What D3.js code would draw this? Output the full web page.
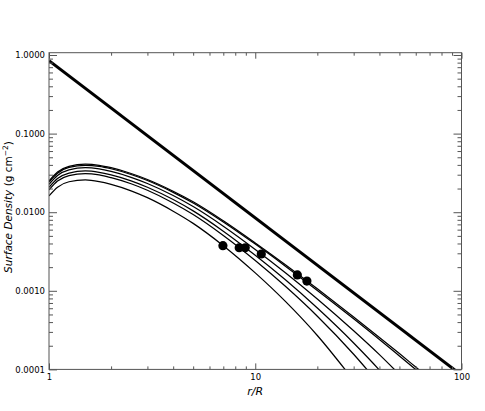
<!DOCTYPE html>
<html>
<head>
<meta charset="utf-8">
<script src="https://cdn.jsdelivr.net/npm/d3@7"></script>
<style>
  body { margin: 0; background: #fff; }
  svg { display: block; }
  .tick text { font-family: "DejaVu Sans", sans-serif; font-size: 8.5px; fill: #000; }
  .tick line { stroke: #555; }
</style>
</head>
<body>
<div id="chart"></div>
<script>
var radius = [1, 1.1, 1.25, 1.5, 1.75, 2, 2.5, 3, 4, 5, 7, 10, 14, 20, 30, 40, 50, 60, 70];

// surface density curves, top to bottom (g cm^-2)
var sigmaA = [0.0249, 0.0324, 0.0382, 0.0408, 0.0395, 0.0368, 0.0311, 0.0261, 0.0185, 0.0136, 0.00779, 0.00407, 0.00215, 0.00106, 0.000464, 0.000255, 0.000159, 0.000107, 0.0000765];
var sigmaB = [0.0242, 0.0314, 0.0371, 0.0395, 0.0383, 0.0357, 0.0302, 0.0253, 0.0179, 0.0131, 0.00752, 0.00393, 0.00206, 0.00101, 0.000440, 0.000240, 0.000148, 0.0000995, 0.0000705];
var sigmaC = [0.0226, 0.0293, 0.0346, 0.0368, 0.0355, 0.0330, 0.0278, 0.0232, 0.0163, 0.0118, 0.00664, 0.00336, 0.00170, 0.000788, 0.000310, 0.000154, 0.0000862];
var sigmaD = [0.0207, 0.0268, 0.0315, 0.0335, 0.0322, 0.0299, 0.0251, 0.0208, 0.0145, 0.0104, 0.00574, 0.00283, 0.00138, 0.000604, 0.000217, 0.0000980, 0.0000500];
var sigmaE = [0.0192, 0.0249, 0.0292, 0.0310, 0.0298, 0.0275, 0.0230, 0.0190, 0.0131, 0.00934, 0.00506, 0.00243, 0.00114, 0.000475, 0.000156, 0.0000647];
var sigmaF = [0.0161, 0.0208, 0.0244, 0.0257, 0.0245, 0.0226, 0.0187, 0.0153, 0.0103, 0.00721, 0.00375, 0.00169, 0.000733, 0.000270, 0.0000723];

// the steep power law (thick line)
var lineR = [1, 100];
var lineSigma = [0.846, 0.0000846];

// filled circles, one per curve
var dotR = [6.97, 8.36, 8.94, 10.7, 16.0, 17.8];
var dotSigma = [0.00375, 0.00353, 0.00353, 0.00294, 0.00159, 0.00133];

// axes
var xTicks = [1, 10, 100];
var xTickLabels = ["1", "10", "100"];
var xMinor = [2, 3, 4, 5, 6, 7, 8, 9, 20, 30, 40, 50, 60, 70, 80, 90];
var yTicks = [0.0001, 0.001, 0.01, 0.1, 1];
var yTickLabels = ["0.0001", "0.0010", "0.0100", "0.1000", "1.0000"];
var yMinor = [0.0002, 0.0003, 0.0004, 0.0005, 0.0006, 0.0007, 0.0008, 0.0009,
              0.002, 0.003, 0.004, 0.005, 0.006, 0.007, 0.008, 0.009,
              0.02, 0.03, 0.04, 0.05, 0.06, 0.07, 0.08, 0.09,
              0.2, 0.3, 0.4, 0.5, 0.6, 0.7, 0.8, 0.9];

(function () {
  var W = 485, H = 411;
  var pLeft = 49, pRight = 461.5, pTop = 52.7, pBottom = 369.4;

  var svg = d3.select("#chart").append("svg")
    .attr("width", W)
    .attr("height", H);

  var x = d3.scaleLog().domain([1, 100]).range([pLeft, pRight]);
  var y = d3.scaleLog().domain([0.0001, 1.07]).range([pBottom, pTop]);

  svg.append("clipPath").attr("id", "plotclip")
    .append("rect")
    .attr("x", pLeft).attr("y", pTop)
    .attr("width", pRight - pLeft).attr("height", pBottom - pTop);

  var plot = svg.append("g").attr("clip-path", "url(#plotclip)");

  var line = d3.line()
    .x(function (d) { return x(d[0]); })
    .y(function (d) { return y(d[1]); })
    .curve(d3.curveMonotoneX);

  [sigmaA, sigmaB, sigmaC, sigmaD, sigmaE, sigmaF].forEach(function (s) {
    var pts = s.map(function (v, i) { return [radius[i], v]; });
    plot.append("path")
      .datum(pts)
      .attr("d", line)
      .attr("fill", "none")
      .attr("stroke", "#000")
      .attr("stroke-width", 1.25);
  });

  plot.append("path")
    .datum(lineR.map(function (r, i) { return [r, lineSigma[i]]; }))
    .attr("d", d3.line().x(function (d) { return x(d[0]); }).y(function (d) { return y(d[1]); }))
    .attr("fill", "none")
    .attr("stroke", "#000")
    .attr("stroke-width", 3);

  plot.selectAll(".dot")
    .data(dotR.map(function (r, i) { return [r, dotSigma[i]]; }))
    .enter().append("circle")
    .attr("class", "dot")
    .attr("cx", function (d) { return x(d[0]); })
    .attr("cy", function (d) { return y(d[1]); })
    .attr("r", 4.6)
    .attr("fill", "#000");

  // axes, IDL style: ticks pointing in on all four sides
  function fmt(list, labels) {
    return function (d) { return labels[list.indexOf(d)]; };
  }

  svg.append("g")
    .attr("transform", "translate(0," + pBottom + ")")
    .call(d3.axisBottom(x).tickValues(xTicks).tickSize(-6).tickPadding(5)
      .tickFormat(fmt(xTicks, xTickLabels)));
  svg.append("g")
    .attr("transform", "translate(0," + pBottom + ")")
    .call(d3.axisBottom(x).tickValues(xMinor).tickSize(-3).tickFormat(""));
  svg.append("g")
    .attr("transform", "translate(0," + pTop + ")")
    .call(d3.axisTop(x).tickValues(xTicks).tickSize(-6).tickFormat(""));
  svg.append("g")
    .attr("transform", "translate(0," + pTop + ")")
    .call(d3.axisTop(x).tickValues(xMinor).tickSize(-3).tickFormat(""));

  svg.append("g")
    .attr("transform", "translate(" + pLeft + ",0)")
    .call(d3.axisLeft(y).tickValues(yTicks).tickSize(-8).tickPadding(4)
      .tickFormat(fmt(yTicks, yTickLabels)));
  svg.append("g")
    .attr("transform", "translate(" + pLeft + ",0)")
    .call(d3.axisLeft(y).tickValues(yMinor).tickSize(-4).tickFormat(""));
  svg.append("g")
    .attr("transform", "translate(" + pRight + ",0)")
    .call(d3.axisRight(y).tickValues(yTicks).tickSize(-8).tickFormat(""));
  svg.append("g")
    .attr("transform", "translate(" + pRight + ",0)")
    .call(d3.axisRight(y).tickValues(yMinor).tickSize(-4).tickFormat(""));

  svg.selectAll(".domain").remove();

  svg.append("rect")
    .attr("x", pLeft).attr("y", pTop)
    .attr("width", pRight - pLeft).attr("height", pBottom - pTop)
    .attr("fill", "none")
    .attr("stroke", "#555")
    .attr("stroke-width", 1);

  // titles
  svg.append("text")
    .attr("x", x(10))
    .attr("y", 395)
    .attr("text-anchor", "middle")
    .style("font-family", "DejaVu Sans, sans-serif")
    .style("font-size", "11px")
    .style("font-style", "italic")
    .text("r/R");

  var yt = svg.append("text")
    .attr("transform", "translate(11.5,207) rotate(-90)")
    .attr("text-anchor", "middle")
    .style("font-family", "DejaVu Sans, sans-serif")
    .style("font-size", "10.5px");
  yt.append("tspan").style("font-style", "italic").text("Surface Density");
  yt.append("tspan").text(" (g cm");
  yt.append("tspan").attr("dy", -3.5).style("font-size", "7.5px").text("\u22122");
  yt.append("tspan").attr("dy", 3.5).text(")");
})();
</script>
</body>
</html>
